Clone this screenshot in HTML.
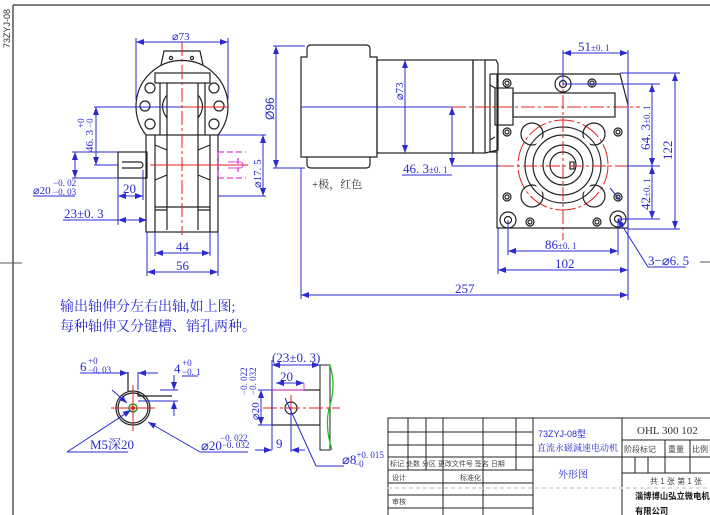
<!DOCTYPE html>
<html><head><meta charset="utf-8"><style>
html,body{margin:0;padding:0;background:#fff;}
svg{display:block;}
text{font-family:"Liberation Serif","Noto Serif CJK SC",serif;}
.b{stroke:#222;stroke-width:1.2;fill:none}
.d{stroke:#2a2ad0;stroke-width:1;fill:none}
.r{stroke:#e02020;stroke-width:1;fill:none;stroke-dasharray:14 3 3 3}
.t{fill:#2a2ad0;font-size:13px}
.s{fill:#2a2ad0;font-size:9px}
.k{fill:#444;font-size:8px;font-family:"Liberation Sans","Noto Sans CJK SC",sans-serif}
</style></head><body>
<svg width="710" height="515" viewBox="0 0 710 515" xmlns="http://www.w3.org/2000/svg">
<defs><marker id="a" markerWidth="8" markerHeight="6" refX="8" refY="3" orient="auto-start-reverse"><path d="M0,0 L8,3 L0,6 z" fill="#2a2ad0"/></marker></defs>
<line x1="13" y1="5" x2="710" y2="5" stroke="#555" stroke-width="1.5"/>
<line x1="13" y1="5" x2="13" y2="515" stroke="#555" stroke-width="1.5"/>
<line x1="0" y1="263" x2="22" y2="263" stroke="#555"/>
<line x1="700" y1="262" x2="710" y2="262" stroke="#555"/>
<text transform="translate(10,48) rotate(-90)" style="font-family:'Liberation Sans',sans-serif;font-size:9px" fill="#333">73ZYJ-08</text>

<path class="b" d="M161,65 L164,51 L200,51 L203,65"/>
<circle cx="171" cy="58" r="1.6" class="b"/><circle cx="192" cy="58" r="1.6" class="b"/>
<path class="b" d="M146,135 A46,46 0 1 1 218,135"/>
<circle cx="150" cy="88" r="5" class="b"/><circle cx="214" cy="88" r="5" class="b"/>
<circle cx="145" cy="106" r="5" class="b"/><circle cx="219" cy="106" r="5" class="b"/>
<circle cx="150" cy="124" r="5" class="b"/><circle cx="214" cy="124" r="5" class="b"/>
<rect x="155" y="73" width="55" height="10" class="b"/>
<line x1="167" y1="83" x2="167" y2="230" class="b"/><line x1="198" y1="83" x2="198" y2="230" class="b"/>
<path class="b" d="M160,83 L160,135 M205,83 L205,135 M167,95 Q158,106 167,118 M198,95 Q207,106 198,118"/>
<rect x="146" y="135" width="72" height="97" class="b"/>
<path class="b" d="M155,135 L155,232 M210,135 L210,232 M155,145 L167,150 M210,145 L198,150 M155,180 L167,175 M210,180 L198,175 M155,207 L210,207 M155,210 L167,210 M198,210 L210,210"/>
<rect x="118" y="152" width="29" height="26" class="b"/>
<path class="b" d="M122,162 L140,162 A3,3 0 0 1 140,168 L122,168"/>
<path d="M218,152 L246,152 M218,178 L246,178 M218,152 L218,178 M238,158 L238,172" stroke="#e040e0" stroke-width="1.3" stroke-dasharray="6 3" fill="none"/>
<path d="M228,162 L240,162 A3,3 0 0 1 240,168 L228,168" stroke="#e040e0" stroke-width="1" fill="none"/>
<line x1="182" y1="42" x2="182" y2="235" class="r"/>
<line x1="150" y1="107" x2="228" y2="107" stroke="#e02020"/>
<line x1="150" y1="165" x2="248" y2="165" stroke="#e02020"/>
<line x1="136" y1="42" x2="228" y2="42" class="d" marker-start="url(#a)" marker-end="url(#a)"/>
<line x1="136" y1="38" x2="136" y2="100" class="d"/><line x1="228" y1="38" x2="228" y2="100" class="d"/>
<text x="172" y="40" class="t" style="font-size:11px">⌀73</text>
<line x1="94" y1="107" x2="182" y2="107" class="d"/>
<line x1="94" y1="165" x2="118" y2="165" class="d"/>
<line x1="96" y1="107" x2="96" y2="165" class="d" marker-start="url(#a)" marker-end="url(#a)"/>
<text transform="translate(93,152) rotate(-90)" class="t" style="font-size:11px">46. 3</text>
<text transform="translate(84,128) rotate(-90)" class="s">+0</text>
<text transform="translate(93,128) rotate(-90)" class="s">−0</text>
<line x1="72" y1="152" x2="118" y2="152" class="d"/><line x1="72" y1="178" x2="118" y2="178" class="d"/>
<line x1="75" y1="152" x2="75" y2="178" class="d" marker-start="url(#a)" marker-end="url(#a)"/>
<text x="33" y="194" class="t" style="font-size:11px">⌀20</text><text x="53" y="186" class="s">−0. 02</text><text x="53" y="195" class="s">−0. 03</text>
<line x1="33" y1="196" x2="75" y2="196" class="d"/>
<line x1="118" y1="178" x2="118" y2="225" class="d"/><line x1="143" y1="170" x2="143" y2="200" class="d"/>
<line x1="118" y1="196" x2="143" y2="196" class="d" marker-start="url(#a)" marker-end="url(#a)"/>
<text x="123" y="193" class="t">20</text>
<line x1="118" y1="220" x2="147" y2="220" class="d" marker-start="url(#a)" marker-end="url(#a)"/>
<line x1="63" y1="220" x2="118" y2="220" class="d"/>
<text x="64" y="218" class="t">23±0. 3</text>
<line x1="147" y1="232" x2="147" y2="276" class="d"/><line x1="218" y1="232" x2="218" y2="276" class="d"/>
<line x1="155" y1="232" x2="155" y2="256" class="d"/><line x1="210" y1="232" x2="210" y2="256" class="d"/>
<line x1="155" y1="253" x2="210" y2="253" class="d" marker-start="url(#a)" marker-end="url(#a)"/>
<text x="176" y="251" class="t">44</text>
<line x1="147" y1="272" x2="218" y2="272" class="d" marker-start="url(#a)" marker-end="url(#a)"/>
<text x="176" y="270" class="t">56</text>
<line x1="218" y1="135" x2="266" y2="135" class="d"/><line x1="218" y1="196" x2="266" y2="196" class="d"/>
<line x1="263" y1="135" x2="263" y2="196" class="d" marker-start="url(#a)" marker-end="url(#a)"/>
<text transform="translate(261,188) rotate(-90)" class="t" style="font-size:11px">⌀17. 5</text>
<line x1="273" y1="46" x2="305" y2="46" class="d"/><line x1="273" y1="168" x2="305" y2="168" class="d"/>
<line x1="276" y1="46" x2="276" y2="168" class="d" marker-start="url(#a)" marker-end="url(#a)"/>
<text transform="translate(274,120) rotate(-90)" class="t" style="font-family:'Liberation Sans',sans-serif;font-size:12px">Ø96</text>

<path class="b" d="M301,57 L307,57 L307,49 Q307,45 311,45 L366,45 Q370,45 370,49 L370,57 L377,57 L377,157 L370,157 L370,164 Q370,168 366,168 L311,168 Q307,168 307,164 L307,157 L301,157 Z M301,157 L377,157"/>
<rect x="377" y="60" width="96" height="93" class="b"/>
<rect x="473" y="60" width="12" height="93" class="b"/>
<path class="b" d="M485,60 L496,60 L498,64 L498,150 L485,153"/>
<line x1="301" y1="107" x2="452" y2="107" stroke="#2a2ad0"/>
<line x1="452" y1="107" x2="640" y2="107" class="r"/>
<path class="b" d="M497,74 L620,74 L628,105 L628,228 L497,228 Z"/>
<path class="b" d="M490,74 L497,74 M490,74 L490,152 L497,152 M490,85 L495,88 M490,140 L495,137"/>
<rect x="495" y="88" width="18" height="37" class="b"/>
<rect x="513" y="93" width="102" height="24" class="b"/>
<circle cx="563" cy="165" r="45" fill="none" stroke="#e02020" stroke-dasharray="20 3 3 3"/>
<g class="b">
<circle cx="563" cy="165" r="38"/>
<circle cx="532" cy="134" r="11"/><circle cx="594" cy="134" r="11"/><circle cx="532" cy="196" r="11"/><circle cx="594" cy="196" r="11"/>
</g>
<circle cx="563" cy="165" r="34" fill="#fff" stroke="none"/>
<g class="b">
<circle cx="563" cy="165" r="30"/><circle cx="563" cy="165" r="20"/><circle cx="563" cy="165" r="13"/>
<rect x="570" y="162" width="4" height="7"/>
<circle cx="563" cy="84" r="8"/><circle cx="563" cy="84" r="3.5"/>
<circle cx="508" cy="220" r="8"/><circle cx="508" cy="220" r="3.5"/>
<circle cx="618" cy="219" r="8"/><circle cx="618" cy="219" r="3.5"/>
<circle cx="507" cy="83" r="4"/><circle cx="507" cy="83" r="2"/>
<circle cx="592" cy="83" r="4"/><circle cx="592" cy="83" r="2"/>
<circle cx="507" cy="132" r="4"/><circle cx="507" cy="132" r="2"/>
<circle cx="618" cy="132" r="4"/><circle cx="618" cy="132" r="2"/>
<circle cx="507" cy="197" r="4"/><circle cx="507" cy="197" r="2"/>
<circle cx="618" cy="197" r="4"/><circle cx="618" cy="197" r="2"/>
<circle cx="530" cy="222" r="4"/><circle cx="530" cy="222" r="2"/>
<circle cx="597" cy="222" r="4"/><circle cx="597" cy="222" r="2"/>
</g>
<line x1="563" y1="72" x2="563" y2="240" class="r"/>
<line x1="500" y1="166" x2="630" y2="166" class="r"/>
<line x1="405" y1="60" x2="405" y2="153" class="d" marker-start="url(#a)" marker-end="url(#a)"/>
<text transform="translate(403,100) rotate(-90)" class="t" style="font-size:11px">⌀73</text>
<line x1="452" y1="107" x2="452" y2="166" class="d" marker-start="url(#a)" marker-end="url(#a)"/>
<line x1="402" y1="175" x2="452" y2="175" class="d"/>
<line x1="452" y1="166" x2="500" y2="166" class="d"/>
<text x="403" y="173" class="t">46. 3<tspan class="s">±0. 1</tspan></text>
<text x="312" y="188" style="font-family:'Liberation Serif','Noto Serif CJK SC',serif;font-size:11px" fill="#333">+极，红色</text>
<line x1="563" y1="50" x2="563" y2="84" class="d"/><line x1="628" y1="50" x2="628" y2="300" class="d"/>
<line x1="563" y1="53" x2="628" y2="53" class="d" marker-start="url(#a)" marker-end="url(#a)"/>
<text x="578" y="51" class="t">51<tspan class="s">±0. 1</tspan></text>
<line x1="563" y1="84" x2="660" y2="84" class="d"/>
<line x1="628" y1="166" x2="660" y2="166" class="d"/>
<line x1="618" y1="219" x2="660" y2="219" class="d"/>
<line x1="652" y1="84" x2="652" y2="166" class="d" marker-start="url(#a)" marker-end="url(#a)"/>
<line x1="652" y1="166" x2="652" y2="219" class="d" marker-start="url(#a)" marker-end="url(#a)"/>
<text transform="translate(650,150) rotate(-90)" class="t">64. 3<tspan class="s">±0. 1</tspan></text>
<text transform="translate(650,210) rotate(-90)" class="t">42<tspan class="s">±0. 1</tspan></text>
<line x1="620" y1="73" x2="680" y2="73" class="d"/><line x1="628" y1="229" x2="680" y2="229" class="d"/>
<line x1="675" y1="73" x2="675" y2="229" class="d" marker-start="url(#a)" marker-end="url(#a)"/>
<text transform="translate(672,160) rotate(-90)" class="t">122</text>
<line x1="508" y1="220" x2="508" y2="255" class="d"/><line x1="618" y1="219" x2="618" y2="255" class="d"/>
<line x1="508" y1="251" x2="618" y2="251" class="d" marker-start="url(#a)" marker-end="url(#a)"/>
<text x="545" y="249" class="t">86<tspan class="s">±0. 1</tspan></text>
<line x1="498" y1="228" x2="498" y2="274" class="d"/>
<line x1="498" y1="270" x2="628" y2="270" class="d" marker-start="url(#a)" marker-end="url(#a)"/>
<text x="555" y="268" class="t">102</text>
<line x1="301" y1="168" x2="301" y2="299" class="d"/>
<line x1="301" y1="295" x2="628" y2="295" class="d" marker-start="url(#a)" marker-end="url(#a)"/>
<text x="455" y="293" class="t">257</text>
<line x1="648" y1="267" x2="686" y2="267" class="d"/>
<line x1="648" y1="267" x2="618" y2="219" class="d" marker-end="url(#a)"/>
<line x1="620" y1="200" x2="610" y2="188" class="d"/>
<text x="648" y="265" class="t">3−⌀6. 5</text>

<text x="60" y="311" class="t" style="font-size:14px">输出轴伸分左右出轴,如上图;</text>
<text x="60" y="331" class="t" style="font-size:14px">每种轴伸又分键槽、销孔两种。</text>

<circle cx="133" cy="408" r="17" class="b"/><circle cx="133" cy="408" r="15" class="b"/>
<circle cx="133" cy="408" r="4" fill="none" stroke="#20a020" stroke-width="1.5"/>
<circle cx="133" cy="408" r="2" fill="#e02020"/>
<path class="b" d="M128,391 L128,372 M138,391 L138,396 L172,396"/>
<line x1="111" y1="408" x2="155" y2="408" stroke="#e02020"/><line x1="133" y1="385" x2="133" y2="431" stroke="#e02020"/>
<line x1="100" y1="373" x2="128" y2="373" class="d" marker-end="url(#a)"/>
<line x1="138" y1="373" x2="158" y2="373" class="d" marker-start="url(#a)"/>
<line x1="138" y1="372" x2="138" y2="390" class="d"/>
<text x="80" y="371" class="t">6</text><text x="88" y="364" class="s">+0</text><text x="88" y="373" class="s">−0. 03</text>
<line x1="80" y1="373" x2="100" y2="373" class="d"/>
<line x1="160" y1="390" x2="178" y2="390" class="d"/><line x1="138" y1="401" x2="178" y2="401" class="d"/>
<line x1="174" y1="375" x2="174" y2="390" class="d" marker-end="url(#a)"/>
<line x1="174" y1="416" x2="174" y2="401" class="d" marker-end="url(#a)"/>
<text x="174" y="373" class="t">4</text><text x="182" y="366" class="s">+0</text><text x="182" y="375" class="s">−0. 1</text>
<line x1="182" y1="376" x2="198" y2="376" class="d"/>
<line x1="67" y1="452" x2="128" y2="452" class="d"/>
<line x1="67" y1="452" x2="131" y2="410" class="d" marker-end="url(#a)"/>
<line x1="112" y1="390" x2="127" y2="403" class="d" marker-end="url(#a)"/>
<text x="90" y="449" class="t">M5深20</text>
<line x1="200" y1="452" x2="148" y2="422" class="d" marker-end="url(#a)"/>
<line x1="200" y1="452" x2="248" y2="452" class="d"/>
<text x="201" y="450" class="t">⌀20<tspan class="s" dy="-2">−0. 032</tspan></text>
<text x="220" y="441" class="s">−0. 022</text>

<rect x="272" y="390" width="48" height="35" class="b"/>
<path d="M272,390 L304,390 L304,383" stroke="#e040e0" fill="none"/>
<rect x="320" y="365" width="10" height="85" fill="#fff" stroke="#222"/>
<path d="M330,365 Q336,385 330,405 Q324,425 332,450" stroke="#20c020" stroke-width="1.3" fill="none"/>
<circle cx="291" cy="408" r="6" class="b"/>
<line x1="263" y1="408" x2="340" y2="408" class="r"/>
<line x1="291" y1="395" x2="291" y2="435" stroke="#e02020"/>
<line x1="272" y1="360" x2="272" y2="450" class="d"/>
<line x1="272" y1="365" x2="320" y2="365" class="d" marker-start="url(#a)" marker-end="url(#a)"/>
<text x="272" y="362" class="t">(23±0. 3)</text>
<line x1="276" y1="383" x2="304" y2="383" class="d" marker-start="url(#a)" marker-end="url(#a)"/>
<text x="280" y="381" class="t">20</text>
<line x1="258" y1="390" x2="272" y2="390" class="d"/><line x1="258" y1="425" x2="272" y2="425" class="d"/>
<line x1="261" y1="390" x2="261" y2="425" class="d" marker-start="url(#a)" marker-end="url(#a)"/>
<text transform="translate(259,420) rotate(-90)" class="t" style="font-size:11px">⌀20</text>
<text transform="translate(247,395) rotate(-90)" class="s">−0. 022</text>
<text transform="translate(256,395) rotate(-90)" class="s">−0. 032</text>
<line x1="255" y1="450" x2="272" y2="450" class="d" marker-end="url(#a)"/>
<line x1="291" y1="450" x2="305" y2="450" class="d" marker-start="url(#a)"/>
<line x1="291" y1="412" x2="291" y2="452" class="d"/>
<text x="276" y="448" class="t">9</text>
<line x1="316" y1="466" x2="344" y2="466" class="d"/>
<line x1="316" y1="466" x2="285" y2="398" class="d"/>
<text x="342" y="464" class="t">⌀8<tspan class="s" dy="-6">+0. 015</tspan></text>
<text x="354" y="467" class="s">−0</text>

<g stroke="#222" stroke-width="1" fill="none">
<rect x="388" y="418" width="330" height="100"/>
<line x1="533" y1="418" x2="533" y2="515"/><line x1="622" y1="418" x2="622" y2="515"/>
<line x1="388" y1="432" x2="533" y2="432"/><line x1="388" y1="445" x2="533" y2="445"/>
<line x1="388" y1="457" x2="622" y2="457"/><line x1="388" y1="470" x2="533" y2="470"/>
<line x1="388" y1="483" x2="533" y2="483"/><line x1="388" y1="495" x2="533" y2="495"/><line x1="388" y1="508" x2="533" y2="508"/>
<line x1="408" y1="418" x2="408" y2="470"/><line x1="426" y1="418" x2="426" y2="470"/>
<line x1="443" y1="418" x2="443" y2="515"/><line x1="483" y1="418" x2="483" y2="515"/><line x1="516" y1="418" x2="516" y2="470"/>
<line x1="622" y1="440" x2="710" y2="440"/><line x1="622" y1="457" x2="710" y2="457"/><line x1="622" y1="473" x2="710" y2="473"/>
<line x1="665" y1="440" x2="665" y2="473"/><line x1="690" y1="440" x2="690" y2="473"/>
<line x1="635" y1="457" x2="635" y2="473"/><line x1="648" y1="457" x2="648" y2="473"/>
</g>
<line x1="388" y1="488" x2="710" y2="488" stroke="#ddd" stroke-width="2" stroke-dasharray="4 3"/>
<text x="538" y="437" class="t" style="font-size:9px;font-family:'Liberation Sans',sans-serif">73ZYJ-08型</text>
<text x="537" y="451" class="t" style="font-size:9px">直流永磁減速电动机</text>
<text x="558" y="478" class="t" style="font-size:10px">外形图</text>
<text x="637" y="434" style="font-size:11px" fill="#333">OHL 300 102</text>
<text x="624" y="452" class="k">阶段标记</text><text x="668" y="452" class="k">重量</text><text x="692" y="452" class="k">比例</text>
<text x="650" y="484" class="k">共 1 张  第 1 张</text>
<text x="390" y="466" class="k" style="font-size:7px">标记 处数 分区 更改文件号  签名   日期</text>
<text x="392" y="480" class="k" style="font-size:7px">设计</text><text x="460" y="480" class="k" style="font-size:7px">标准化</text>
<text x="392" y="504" class="k" style="font-size:7px">审核</text>
<text x="635" y="499" style="font-size:8.3px;font-weight:bold;font-family:'Noto Sans CJK SC',sans-serif" fill="#111">淄博博山弘立微电机</text>
<text x="635" y="514" style="font-size:8.3px;font-weight:bold;font-family:'Noto Sans CJK SC',sans-serif" fill="#111">有限公司</text>
</svg>
</body></html>
